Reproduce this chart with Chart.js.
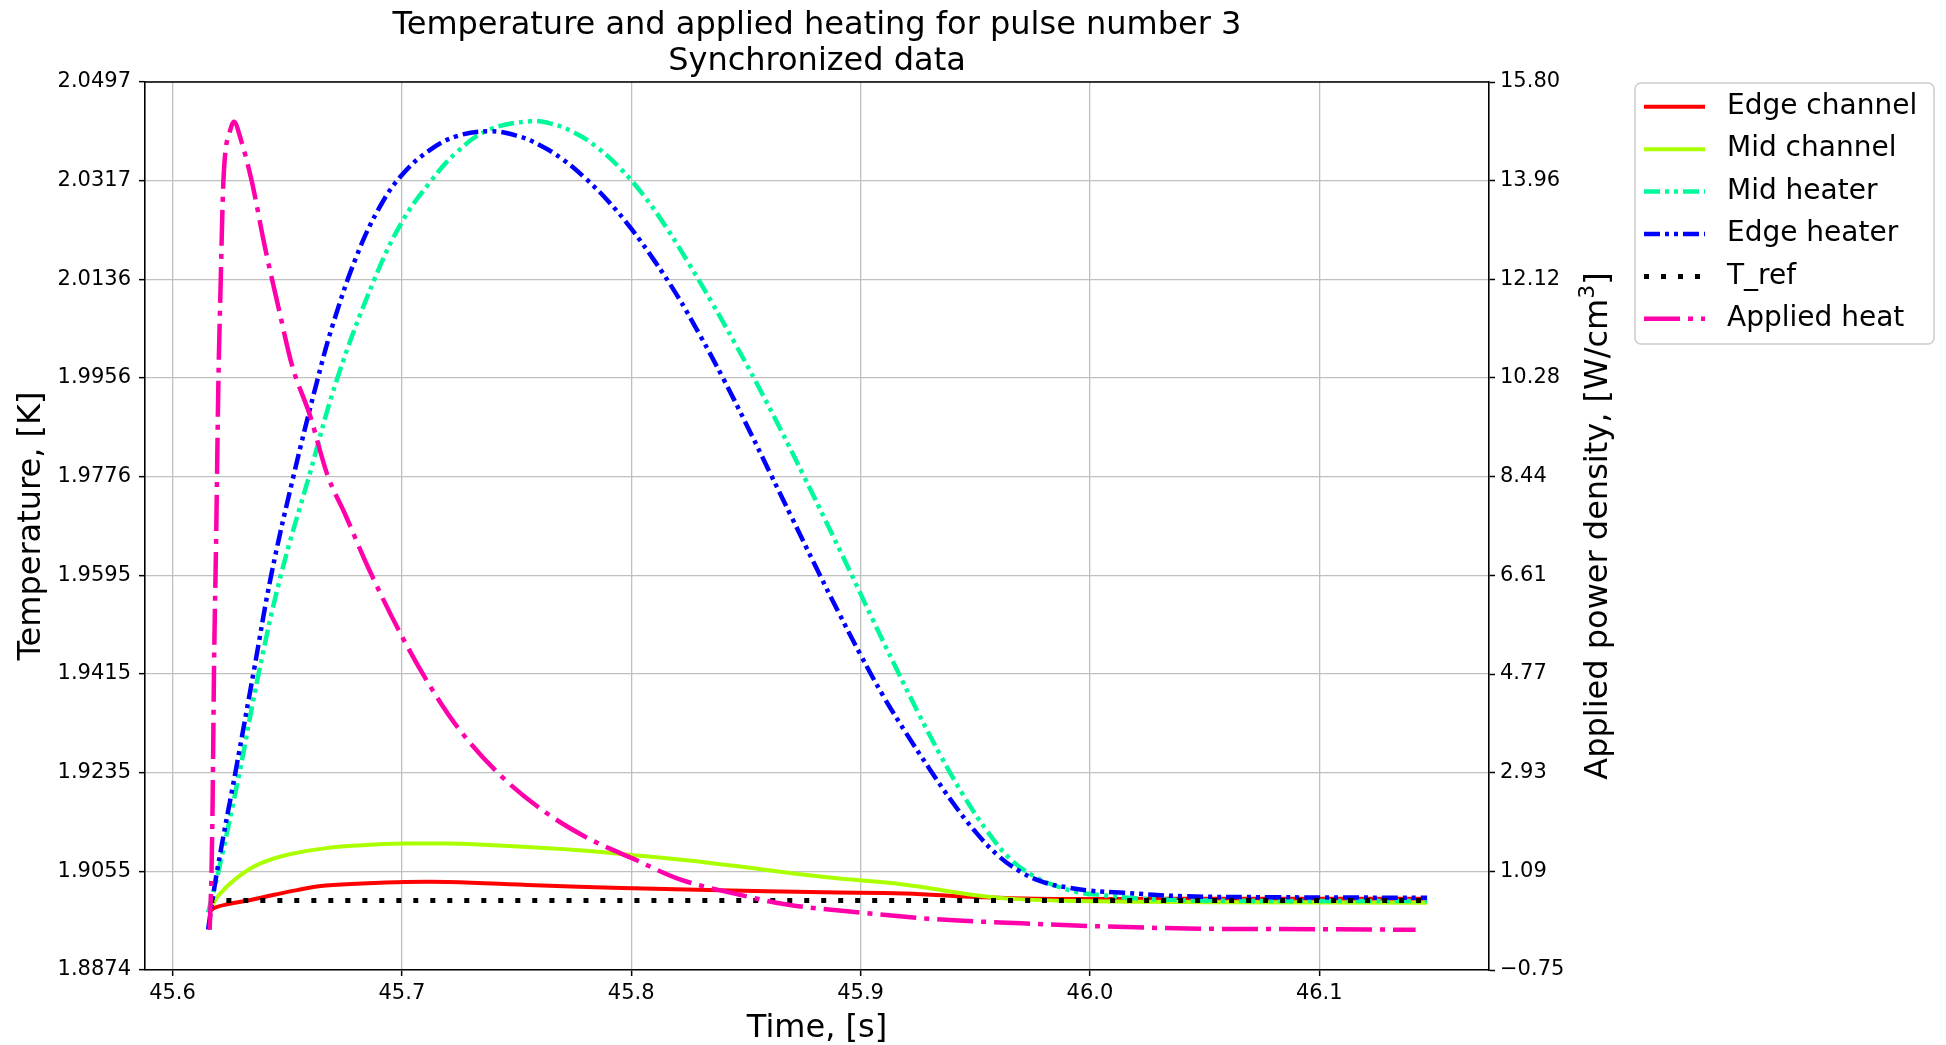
<!DOCTYPE html>
<html>
<head>
<meta charset="utf-8">
<title>Temperature and applied heating for pulse number 3</title>
<script src="https://cdn.jsdelivr.net/npm/chart.js@4.4.1/dist/chart.umd.min.js"></script>
<style>
  html, body { margin: 0; padding: 0; background: #ffffff; }
  #wrap { width: 1946px; height: 1045px; position: relative; }
</style>
</head>
<body>
<div id="wrap"><canvas id="pulseChart"></canvas></div>
<script>

// Axis limits and tick labels
const timeMin = 45.588;
const timeMax = 46.174;
const timeTicks = [45.6, 45.7, 45.8, 45.9, 46.0, 46.1];

const tempMin = 1.8874;
const tempMax = 2.0497;
const tempTickLabels = ["1.8874", "1.9055", "1.9235", "1.9415", "1.9595", "1.9776", "1.9956", "2.0136", "2.0317", "2.0497"];

const powerMin = -0.75;
const powerMax = 15.80;
const powerTickLabels = ["\u22120.75", "1.09", "2.93", "4.77", "6.61", "8.44", "10.28", "12.12", "13.96", "15.80"];

// Edge channel temperature [K]
const edgeChannelTime = [45.6155, 45.6185, 45.6250, 45.6317, 45.6449, 45.6543, 45.6637, 45.6826, 45.7015, 45.7204, 45.7581, 45.7958, 45.8336, 45.8842, 45.9194, 45.9477, 45.9760, 46.0300, 46.1000, 46.1470];
const edgeChannelTemp = [1.8979, 1.8988, 1.8995, 1.9000, 1.9012, 1.9020, 1.9027, 1.9032, 1.9035, 1.9035, 1.9029, 1.9024, 1.9020, 1.9016, 1.9014, 1.9008, 1.9004, 1.9004, 1.9004, 1.9004];

// Mid channel temperature [K]
const midChannelTime = [45.6155, 45.6204, 45.6279, 45.6374, 45.6506, 45.6675, 45.6826, 45.7015, 45.7204, 45.7487, 45.7770, 45.7958, 45.8336, 45.8842, 45.9194, 45.9477, 45.9666, 45.9949, 46.0500, 46.1470];
const midChannelTemp = [1.8980, 1.9012, 1.9042, 1.9067, 1.9085, 1.9097, 1.9102, 1.9105, 1.9105, 1.9100, 1.9093, 1.9086, 1.9070, 1.9044, 1.9030, 1.9012, 1.9004, 1.9000, 1.8998, 1.8997];

// Mid heater temperature [K]
const midHeaterTime = [45.6155, 45.6200, 45.6292, 45.6375, 45.6472, 45.6595, 45.6719, 45.6880, 45.7000, 45.7123, 45.7240, 45.7376, 45.7551,
    45.765, 45.775, 45.785, 45.795, 45.805, 45.815, 45.825, 45.835, 45.845, 45.855, 45.865, 45.875, 45.885, 45.895, 45.905, 45.915, 45.925,
    45.935, 45.945, 45.955, 45.965, 45.975, 45.985, 45.995, 46.005, 46.020, 46.050, 46.147];
const midHeaterTemp = [1.8979, 1.9054, 1.9235, 1.9415, 1.9595, 1.9776, 1.9956, 2.0136, 2.0241, 2.0314, 2.0369, 2.0409, 2.0425,
    2.0421, 2.0405, 2.0378, 2.0340, 2.0292, 2.0233, 2.0166, 2.0095, 2.0021, 1.9944, 1.9863, 1.9779, 1.9693, 1.9606, 1.9517, 1.9430, 1.9345,
    1.9265, 1.9192, 1.9129, 1.9078, 1.9047, 1.9028, 1.9016, 1.9011, 1.9005, 1.9001, 1.9000];

// Edge heater temperature [K]
const edgeHeaterTime = [45.6155, 45.6194, 45.6278, 45.6356, 45.6430, 45.6527, 45.6634, 45.6700, 45.6800, 45.6900, 45.7000, 45.7123, 45.7240, 45.7380,
    45.750, 45.760, 45.770, 45.780, 45.790, 45.800, 45.810, 45.820, 45.830, 45.840, 45.850, 45.860, 45.870, 45.880, 45.890, 45.900,
    45.910, 45.920, 45.930, 45.940, 45.950, 45.960, 45.970, 45.980, 45.990, 46.000, 46.015, 46.040, 46.080, 46.147];
const edgeHeaterTemp = [1.8948, 1.9054, 1.9244, 1.9424, 1.9595, 1.9776, 1.9956, 2.0055, 2.0176, 2.0266, 2.0327, 2.0373, 2.0398, 2.0407,
    2.0399, 2.0382, 2.0356, 2.0321, 2.0279, 2.0229, 2.0171, 2.0107, 2.0034, 1.9956, 1.9873, 1.9787, 1.9701, 1.9615, 1.9531, 1.9450,
    1.9374, 1.9306, 1.9242, 1.9181, 1.9127, 1.9083, 1.9053, 1.9034, 1.9025, 1.9019, 1.9015, 1.9009, 1.9007, 1.9006];

// Reference temperature [K]
const tRefTime = [45.6160, 46.1470];
const tRefTemp = [1.9001, 1.9001];

// Applied power density [W/cm3]
const heatTime = [45.6162, 45.6170, 45.6175, 45.6181, 45.6190, 45.6200, 45.6210, 45.6220, 45.6229, 45.6249, 45.6268, 45.6297, 45.6346, 45.6404, 45.6463, 45.6521, 45.6599, 45.6676, 45.6754, 45.6851, 45.7000, 45.7123, 45.7240, 45.7434, 45.7629, 45.7823, 45.8000, 45.8212, 45.8465, 45.8678, 45.9000, 45.9313, 45.9701, 46.0000, 46.0478, 46.1000, 46.1420];
const heatPower = [0.00, 1.09, 2.43, 4.91, 7.23, 10.21, 12.07, 13.75, 14.43, 14.86, 15.06, 14.74, 13.94, 12.70, 11.58, 10.52, 9.59, 8.47, 7.73, 6.77, 5.47, 4.54, 3.79, 2.86, 2.18, 1.68, 1.34, 0.94, 0.66, 0.47, 0.32, 0.20, 0.12, 0.07, 0.02, 0.01, 0.00];


function toPoints(xs, ys) {
    return xs.map((x, i) => ({ x: x, y: ys[i] }));
}

const FONT = "'DejaVu Sans', 'Liberation Sans', sans-serif";

function lineSet(label, xs, ys, color, dash, axis, order, width, mode) {
    return {
        label: label,
        data: toPoints(xs, ys),
        borderColor: color,
        backgroundColor: color,
        borderWidth: width,
        borderDash: dash,
        borderCapStyle: "butt",
        pointRadius: 0,
        fill: false,
        tension: 0.4,
        cubicInterpolationMode: mode,
        yAxisID: axis,
        order: order
    };
}

// Title, top spine, right axis label and legend drawn on the canvas
const decorations = {
    id: "decorations",
    afterDraw(chart) {
        const ctx = chart.ctx;
        const area = chart.chartArea;
        ctx.save();

        // top spine
        ctx.strokeStyle = "#000000";
        ctx.lineWidth = 1.6;
        ctx.beginPath();
        ctx.moveTo(area.left, area.top);
        ctx.lineTo(area.right, area.top);
        ctx.stroke();

        // title
        const cx = (area.left + area.right) / 2;
        ctx.fillStyle = "#000000";
        ctx.font = "32px " + FONT;
        ctx.textAlign = "center";
        ctx.textBaseline = "alphabetic";
        ctx.fillText("Temperature and applied heating for pulse number 3", cx, 34);
        ctx.fillText("Synchronized data", cx, 70);

        // right axis label with superscript
        ctx.save();
        ctx.translate(1607, (area.top + area.bottom) / 2);
        ctx.rotate(-Math.PI / 2);
        ctx.textAlign = "left";
        const main = "Applied power density, [W/cm";
        ctx.font = "32px " + FONT;
        const w1 = ctx.measureText(main).width;
        const w3 = ctx.measureText("]").width;
        ctx.font = "22px " + FONT;
        const w2 = ctx.measureText("3").width;
        let x0 = -(w1 + w2 + w3) / 2;
        ctx.font = "32px " + FONT;
        ctx.fillText(main, x0, 0);
        ctx.font = "22px " + FONT;
        ctx.fillText("3", x0 + w1, -13);
        ctx.font = "32px " + FONT;
        ctx.fillText("]", x0 + w1 + w2, 0);
        ctx.restore();

        // legend
        const lx = 1635, ly = 83, lw = 299, lh = 261;
        ctx.beginPath();
        ctx.roundRect(lx, ly, lw, lh, 6);
        ctx.fillStyle = "rgba(255,255,255,0.8)";
        ctx.fill();
        ctx.strokeStyle = "#cccccc";
        ctx.lineWidth = 1.5;
        ctx.stroke();

        chart.data.datasets.forEach((ds, i) => {
            const y = 106.8 + i * 42.4;
            ctx.strokeStyle = ds.borderColor;
            ctx.lineWidth = ds.borderWidth;
            ctx.setLineDash(ds.borderDash);
            ctx.lineCap = "butt";
            ctx.beginPath();
            ctx.moveTo(1644, y);
            ctx.lineTo(1705, y);
            ctx.stroke();
            ctx.setLineDash([]);
            ctx.fillStyle = "#000000";
            ctx.font = "28px " + FONT;
            ctx.textAlign = "left";
            ctx.textBaseline = "middle";
            ctx.fillText(ds.label, 1727, y);
        });

        ctx.restore();
    }
};

const pulseCanvas = document.getElementById("pulseChart");

new Chart(pulseCanvas, {

    type: "line",

    data: {
        datasets: [
            lineSet("Edge channel", edgeChannelTime, edgeChannelTemp, "#ff0000", [], "yTemp", 5, 4, "default"),
            lineSet("Mid channel", midChannelTime, midChannelTemp, "#aaff00", [], "yTemp", 4, 4, "default"),
            lineSet("Mid heater", midHeaterTime, midHeaterTemp, "#00fa9a", [16, 5, 4, 5, 4, 5], "yTemp", 3, 4.5, "default"),
            lineSet("Edge heater", edgeHeaterTime, edgeHeaterTemp, "#0000ff", [16, 5, 4, 5, 4, 5], "yTemp", 2, 4.5, "default"),
            lineSet("T_ref", tRefTime, tRefTemp, "#000000", [5, 12], "yTemp", 1, 5, "default"),
            lineSet("Applied heat", heatTime, heatPower, "#ff00aa", [36, 8, 5, 8], "yPower", 0, 4.5, "monotone")
        ]
    },

    options: {

        responsive: true,
        maintainAspectRatio: false,
        animation: false,
        devicePixelRatio: 1,

        layout: {
            padding: { top: 82, left: 0, right: 0, bottom: 0 }
        },

        plugins: {
            legend: { display: false },
            tooltip: { enabled: false },
            title: { display: false }
        },

        scales: {

            x: {
                type: "linear",
                position: "bottom",
                min: timeMin,
                max: timeMax,
                afterBuildTicks: (scale) => {
                    scale.ticks = timeTicks.map(v => ({ value: v }));
                },
                afterFit: (scale) => { scale.height = 75; },
                ticks: {
                    callback: (v) => Number(v).toFixed(1),
                    font: { family: FONT, size: 21 },
                    color: "#000000",
                    padding: 5,
                    maxRotation: 0,
                    autoSkip: false
                },
                grid: {
                    color: "#c0c0c0",
                    lineWidth: 1.3,
                    tickColor: "#000000",
                    tickLength: 6,
                    tickWidth: 1.5
                },
                border: { color: "#000000", width: 1.6 },
                title: {
                    display: true,
                    text: "Time, [s]",
                    font: { family: FONT, size: 32, lineHeight: 1.0 },
                    color: "#000000",
                    padding: { top: 0, bottom: 0 }
                }
            },

            yTemp: {
                type: "linear",
                position: "left",
                min: tempMin,
                max: tempMax,
                afterBuildTicks: (scale) => {
                    scale.ticks = tempTickLabels.map((_, i) => ({ value: tempMin + i * (tempMax - tempMin) / 9 }));
                },
                afterFit: (scale) => { scale.width = 145; },
                ticks: {
                    callback: (v, i) => tempTickLabels[i],
                    font: { family: FONT, size: 21 },
                    color: "#000000",
                    padding: 8,
                    autoSkip: false
                },
                grid: {
                    color: "#c0c0c0",
                    lineWidth: 1.3,
                    tickColor: "#000000",
                    tickLength: 6,
                    tickWidth: 1.5
                },
                border: { color: "#000000", width: 1.6 },
                title: {
                    display: true,
                    text: "Temperature, [K]",
                    font: { family: FONT, size: 32 },
                    color: "#000000",
                    padding: { top: 12, bottom: 0 }
                }
            },

            yPower: {
                type: "linear",
                position: "right",
                min: powerMin,
                max: powerMax,
                afterBuildTicks: (scale) => {
                    scale.ticks = powerTickLabels.map((_, i) => ({ value: powerMin + i * (powerMax - powerMin) / 9 }));
                },
                afterFit: (scale) => { scale.width = 457; },
                ticks: {
                    callback: (v, i) => powerTickLabels[i],
                    font: { family: FONT, size: 21 },
                    color: "#000000",
                    padding: 5,
                    autoSkip: false
                },
                grid: {
                    drawOnChartArea: false,
                    color: "#000000",
                    tickColor: "#000000",
                    tickLength: 6,
                    tickWidth: 1.5
                },
                border: { color: "#000000", width: 1.6 }
            }
        }
    },

    plugins: [decorations]
});
</script>
</body>
</html>
